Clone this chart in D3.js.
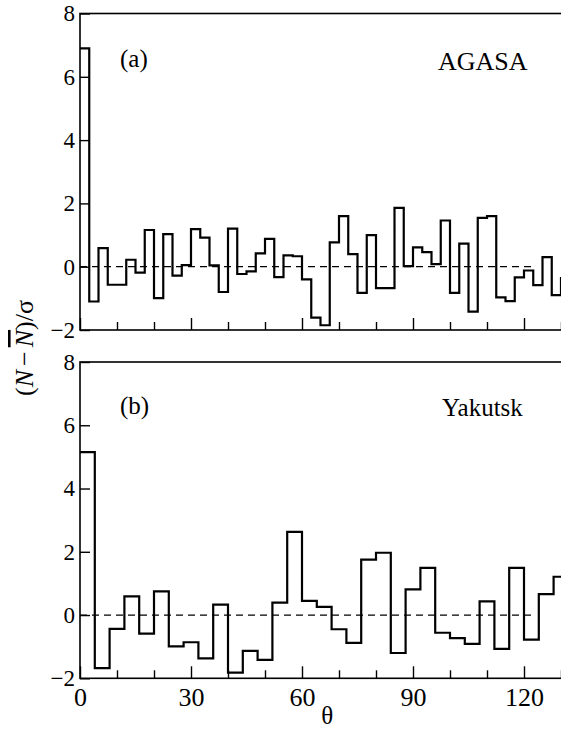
<!DOCTYPE html>
<html>
<head>
<meta charset="utf-8">
<script src="https://cdn.jsdelivr.net/npm/d3@7"></script>
<style>
  body { margin: 0; background: #fff; }
  svg { display: block; }
</style>
</head>
<body>
<svg id="chart" width="561" height="730"></svg>
<script>
// ==== data ====
// AGASA: bins of 2.5 deg
const agasaBin = 2.5;
const agasaVals = [6.9, -1.10, 0.59, -0.57, -0.57, 0.22, -0.19, 1.16, -0.99, 1.03,
  -0.28, 0.05, 1.19, 0.92, 0.04, -0.80, 1.20, -0.23, -0.15, 0.42,
  0.88, -0.33, 0.36, 0.33, -0.40, -1.61, -1.85, 0.77, 1.60, 0.40,
  -0.83, 1.00, -0.68, -0.68, 1.86, 0.02, 0.61, 0.46, 0.08, 1.46,
  -0.83, 0.73, -1.42, 1.54, 1.60, -0.97, -1.09, -0.34, -0.12, -0.58,
  0.30, -0.90, -0.36];
// Yakutsk: bins of 4 deg
const yakBin = 4;
const yakVals = [5.15, -1.68, -0.44, 0.59, -0.59, 0.75, -0.99, -0.86, -1.37, 0.33,
  -1.82, -1.13, -1.42, 0.39, 2.63, 0.45, 0.26, -0.45, -0.88, 1.75,
  1.97, -1.20, 0.81, 1.49, -0.56, -0.73, -0.91, 0.43, -1.07, 1.49,
  -0.78, 0.66, 1.21];

const yTicks = [-2, 0, 2, 4, 6, 8];
const xMajor = [0, 30, 60, 90, 120];
const xMinor = [10, 20, 40, 50, 70, 80, 100, 110, 130];
const zeroLineEnd = 122;

const SERIF = '"Liberation Serif", "Times New Roman", Times, serif';

const svg = d3.select('#chart');

const x = d3.scaleLinear().domain([0, 132]).range([80, 80 + 132 * 3.7]);

const panels = [
  { vals: agasaVals, bin: agasaBin, y0: 330, y1: 13.5, tag: '(a)', name: 'AGASA',
    tagY: 67, nameX: 438, nameY: 70, nameSize: 26, labels: false },
  { vals: yakVals, bin: yakBin, y0: 678.3, y1: 362, tag: '(b)', name: 'Yakutsk',
    tagY: 414, nameX: 442, nameY: 416, nameSize: 25, labels: true }
];

const fmt = d => d < 0 ? '\u2212' + (-d) : String(d);

panels.forEach(p => {
  const y = d3.scaleLinear().domain([-2, 8]).range([p.y0, p.y1]);
  const g = svg.append('g');

  // zero reference
  g.append('line')
    .attr('x1', x(0)).attr('x2', x(zeroLineEnd))
    .attr('y1', y(0)).attr('y2', y(0))
    .attr('stroke', '#000').attr('stroke-width', 1.3)
    .attr('stroke-dasharray', '7,5');

  // histogram
  const pts = p.vals.map((v, i) => [i * p.bin, v]);
  pts.push([p.vals.length * p.bin, p.vals[p.vals.length - 1]]);
  const line = d3.line()
    .x(d => x(d[0]))
    .y(d => y(d[1]))
    .curve(d3.curveStepAfter);
  g.append('path')
    .datum(pts)
    .attr('d', line)
    .attr('fill', 'none')
    .attr('stroke', '#000')
    .attr('stroke-width', 2.2);

  // y axis, ticks inward
  const ya = g.append('g')
    .attr('transform', `translate(${x(0)},0)`)
    .call(d3.axisLeft(y).tickValues(yTicks).tickFormat(fmt)
      .tickSizeInner(-10).tickSizeOuter(0).tickPadding(5));
  ya.attr('font-family', null).attr('font-size', null);
  ya.select('.domain').remove();
  ya.selectAll('line').attr('stroke-width', 1.4);
  ya.selectAll('text').style('font-family', SERIF).style('font-size', '23px');

  // x axis minor + major ticks, inward
  const xm = g.append('g')
    .attr('transform', `translate(0,${p.y0})`)
    .call(d3.axisBottom(x).tickValues(xMinor).tickFormat('')
      .tickSizeInner(-8).tickSizeOuter(0));
  xm.select('.domain').remove();
  xm.selectAll('line').attr('stroke-width', 1.4);

  const xM = g.append('g')
    .attr('transform', `translate(0,${p.y0})`)
    .call(d3.axisBottom(x).tickValues(xMajor)
      .tickFormat(p.labels ? d3.format('d') : '')
      .tickSizeInner(-12).tickSizeOuter(0).tickPadding(9));
  xM.attr('font-family', null).attr('font-size', null);
  xM.select('.domain').remove();
  xM.selectAll('line').attr('stroke-width', 1.4);
  xM.selectAll('text').style('font-family', SERIF).style('font-size', '26px');

  // frame (right side lies past the cropped edge)
  g.append('rect')
    .attr('x', x(0)).attr('y', p.y1)
    .attr('width', x(132) - x(0) + 10).attr('height', p.y0 - p.y1)
    .attr('fill', 'none').attr('stroke', '#000').attr('stroke-width', 1.6);

  g.append('text')
    .attr('x', 120).attr('y', p.tagY)
    .style('font-family', SERIF).style('font-size', '25px')
    .text(p.tag);
  g.append('text')
    .attr('x', p.nameX).attr('y', p.nameY)
    .style('font-family', SERIF).style('font-size', p.nameSize + 'px')
    .text(p.name);
});

// axis titles
svg.append('text')
  .attr('x', x(66.8)).attr('y', 724)
  .attr('text-anchor', 'middle')
  .style('font-family', SERIF).style('font-size', '25px')
  .text('\u03b8');

const yt = svg.append('text')
  .attr('transform', 'translate(33,348) rotate(-90)')
  .attr('text-anchor', 'middle')
  .style('font-family', SERIF).style('font-size', '26px');
yt.append('tspan').text('(');
yt.append('tspan').style('font-style', 'italic').text('N');
yt.append('tspan').attr('dx', 4).text('\u2212');
yt.append('tspan').attr('dx', 4).style('font-style', 'italic')
  .style('text-decoration', 'overline').text('N');
yt.append('tspan').text(')/\u03c3');
</script>
</body>
</html>
